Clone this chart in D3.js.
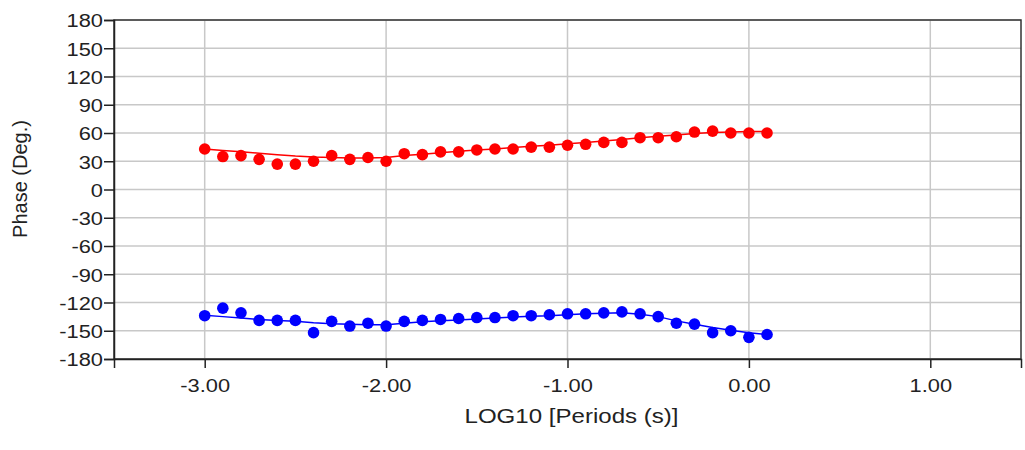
<!DOCTYPE html>
<html>
<head>
<meta charset="utf-8">
<script src="https://cdn.jsdelivr.net/npm/d3@7"></script>
<style>
  body { margin: 0; background: #fff; }
  svg { display: block; font-family: "Liberation Sans", Arial, sans-serif; }
</style>
</head>
<body>
<svg id="chart" width="1025" height="450"></svg>
<script>
// ---- data ----
const periodsLog = [-3.0,-2.9,-2.8,-2.7,-2.6,-2.5,-2.4,-2.3,-2.2,-2.1,-2.0,-1.9,-1.8,-1.7,-1.6,-1.5,
                    -1.4,-1.3,-1.2,-1.1,-1.0,-0.9,-0.8,-0.7,-0.6,-0.5,-0.4,-0.3,-0.2,-0.1,0.0,0.1];
const redObserved = [43,35,36,32,27,27,30,36,32,34,30,38,37,40,40,42,
                     43,43,45,45,47,48,50,50,55,55,56,61,62,60,60,60];
const redModel = [43,41.5,40,38.5,37,35.5,34.5,34,33.5,33.5,34,36,37.5,39,40.5,42,
                  43,44.5,46,47,48.5,50,51.5,53,55,56.5,58,59.5,60.5,61,61.5,61.5];
const blueObserved = [-134,-126,-131,-139,-139,-139,-152,-140,-145,-142,-145,-140,-139,-138,-137,-136,
                      -136,-134,-134,-133,-132,-132,-131,-130,-132,-135,-142,-143,-152,-150,-157,-154];
const blueModel = [-133.5,-135,-136.5,-138,-139,-140,-141.5,-142.5,-143,-143.5,-143.5,-142,-140.5,-139.5,-138.5,-137.5,
                   -136.5,-135.5,-134.5,-134,-133,-132,-131.5,-131,-132.5,-135,-139.5,-143,-146.5,-149.5,-152,-154];
const xTicks = [-3, -2, -1, 0, 1];
const yTicks = [180,150,120,90,60,30,0,-30,-60,-90,-120,-150,-180];
const xTitle = "LOG10 [Periods (s)]";
const yTitle = "Phase (Deg.)";

// ---- layout ----
const svg = d3.select("#chart");
const pLeft = 114, pRight = 1021, pTop = 20, pBottom = 359;
const x = d3.scaleLinear().domain([-3.5, 1.5]).range([pLeft, pRight]);
const y = d3.scaleLinear().domain([-180, 180]).range([pBottom, pTop]);
const stretch = 1.15;

// grid
const grid = svg.append("g");
grid.selectAll(".vg").data(xTicks).join("line")
  .attr("x1", d => x(d)).attr("x2", d => x(d)).attr("y1", pTop).attr("y2", pBottom)
  .attr("stroke", "#c8c8c8").attr("stroke-width", 1.5);
grid.selectAll(".hg").data(yTicks).join("line")
  .attr("x1", pLeft).attr("x2", pRight).attr("y1", d => y(d)).attr("y2", d => y(d))
  .attr("stroke", "#c8c8c8").attr("stroke-width", 1.5);

// frame
svg.append("rect").attr("x", pLeft).attr("y", pTop).attr("width", pRight - pLeft).attr("height", pBottom - pTop)
  .attr("fill", "none").attr("stroke", "#333").attr("stroke-width", 1.5);

// axes
const fmtX = d => d.toFixed(2);
const xAxis = d3.axisBottom(x).tickValues(xTicks).tickFormat(fmtX).tickSize(9).tickPadding(5);
const yAxis = d3.axisLeft(y).tickValues(yTicks).tickFormat(d => String(d)).tickSize(10).tickPadding(1);

const gx = svg.append("g").attr("transform", `translate(0,${pBottom})`).call(xAxis);
const gy = svg.append("g").attr("transform", `translate(${pLeft},0)`).call(yAxis);
[gx, gy].forEach(g => {
  g.select(".domain").attr("stroke", "#222").attr("stroke-width", 1.5);
  g.selectAll(".tick line").attr("stroke", "#222").attr("stroke-width", 1.5);
  g.selectAll(".tick text").attr("fill", "#222").style("font-size", "19px")
    .style("font-family", "'Liberation Sans', Arial, sans-serif");
});
gx.selectAll(".tick text").attr("dy", "1em").attr("transform", `scale(${stretch},1)`);
gy.selectAll(".tick text").attr("dy", "0.36em")
  .attr("x", -11 / stretch).attr("transform", `scale(${stretch},1)`);

// titles
svg.append("text").attr("x", (pLeft + pRight) / 2 + 4).attr("y", 423)
  .attr("text-anchor", "middle").attr("fill", "#222").style("font-size", "20px")
  .attr("textLength", 214).attr("lengthAdjust", "spacingAndGlyphs").text(xTitle);
svg.append("text").attr("transform", "translate(27,179) rotate(-90)")
  .attr("text-anchor", "middle").attr("fill", "#222").style("font-size", "20px").text(yTitle);

// series
const line = d3.line().x((d, i) => x(periodsLog[i])).y(d => y(d));
const series = [
  {obs: redObserved, model: redModel, color: "#ff0000"},
  {obs: blueObserved, model: blueModel, color: "#0000ff"}
];
series.forEach(s => {
  svg.append("path").datum(s.model).attr("d", line)
    .attr("fill", "none").attr("stroke", s.color).attr("stroke-width", 1.5);
  svg.append("g").selectAll("circle").data(s.obs).join("circle")
    .attr("cx", (d, i) => x(periodsLog[i])).attr("cy", d => y(d)).attr("r", 5.8)
    .attr("fill", s.color);
});
</script>
</body>
</html>
